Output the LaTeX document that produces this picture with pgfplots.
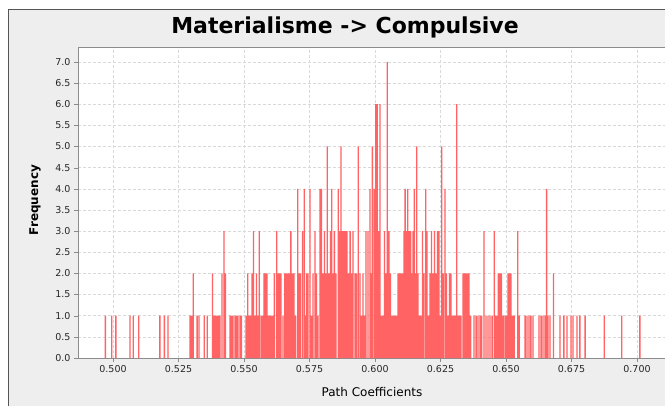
\documentclass[border=0pt]{standalone}
\usepackage{pgfplots}
\pgfplotsset{compat=1.18}
\usepackage{pgfplotstable}
\usepackage{fontspec}
\setmainfont{DejaVu Sans}
\definecolor{panelgray}{HTML}{EEEEEE}
\definecolor{bordergray}{HTML}{555555}
\definecolor{barred}{HTML}{FF6363}
\pgfplotstableread{
x y
0.4971 1
0.4995 1
0.5011 1
0.5065 1
0.5077 1
0.5098 1
0.5179 1
0.5196 1
0.5210 1
0.5294 1
0.5300 1
0.5306 2
0.5321 1
0.5328 1
0.5348 1
0.5360 1
0.5380 2
0.5385 1
0.5391 1
0.5397 1
0.5403 1
0.5408 1
0.5416 2
0.5424 3
0.5429 2
0.5447 1
0.5452 1
0.5458 1
0.5466 1
0.5471 1
0.5477 1
0.5485 1
0.5490 1
0.5508 1
0.5514 2
0.5519 1
0.5525 1
0.5531 2
0.5536 3
0.5542 1
0.5548 2
0.5553 1
0.5558 3
0.5565 1
0.5571 1
0.5576 2
0.5582 2
0.5588 2
0.5594 1
0.5599 1
0.5605 1
0.5611 1
0.5616 2
0.5625 3
0.5630 2
0.5636 2
0.5641 2
0.5649 1
0.5656 2
0.5662 2
0.5668 2
0.5674 2
0.5679 3
0.5685 2
0.5691 2
0.5697 1
0.5705 4
0.5710 2
0.5716 2
0.5723 3
0.5730 4
0.5735 1
0.5739 2
0.5744 2
0.5752 4
0.5758 1
0.5763 2
0.5771 3
0.5777 2
0.5782 1
0.5790 4
0.5796 4
0.5802 2
0.5807 3
0.5812 2
0.5818 5
0.5824 2
0.5830 3
0.5835 4
0.5840 2
0.5845 3
0.5851 2
0.5860 4
0.5865 3
0.5870 5
0.5876 3
0.5882 3
0.5887 3
0.5893 3
0.5899 2
0.5905 3
0.5910 2
0.5916 3
0.5924 2
0.5929 2
0.5936 5
0.5943 2
0.5948 1
0.5954 2
0.5960 1
0.5966 3
0.5973 3
0.5981 4
0.5985 2
0.5990 5
0.5997 4
0.6003 6
0.6008 6
0.6013 3
0.6019 6
0.6025 1
0.6031 1
0.6036 3
0.6042 2
0.6047 7
0.6053 3
0.6059 2
0.6065 1
0.6071 1
0.6076 1
0.6082 1
0.6088 2
0.6094 2
0.6099 2
0.6105 2
0.6111 3
0.6115 4
0.6120 3
0.6125 4
0.6130 3
0.6136 3
0.6141 2
0.6145 3
0.6150 4
0.6155 2
0.6159 5
0.6164 2
0.6170 1
0.6176 1
0.6181 3
0.6187 2
0.6194 4
0.6198 3
0.6204 1
0.6210 2
0.6216 3
0.6221 2
0.6227 3
0.6233 2
0.6239 3
0.6244 3
0.6250 1
0.6255 5
0.6260 2
0.6267 4
0.6273 2
0.6279 1
0.6284 2
0.6290 2
0.6296 1
0.6302 1
0.6307 1
0.6312 6
0.6317 1
0.6323 1
0.6328 1
0.6336 2
0.6342 2
0.6347 2
0.6353 2
0.6359 2
0.6365 1
0.6378 1
0.6386 1
0.6393 1
0.6401 1
0.6407 1
0.6416 3
0.6424 1
0.6431 1
0.6439 1
0.6447 1
0.6455 3
0.6460 1
0.6466 1
0.6471 2
0.6477 2
0.6483 2
0.6489 1
0.6496 1
0.6502 1
0.6508 2
0.6513 2
0.6519 2
0.6525 1
0.6531 1
0.6545 3
0.6550 1
0.6573 1
0.6580 1
0.6588 1
0.6595 1
0.6603 1
0.6626 1
0.6634 1
0.6641 1
0.6649 1
0.6655 4
0.6660 1
0.6668 1
0.6681 2
0.6706 1
0.6721 1
0.6733 1
0.6748 1
0.6756 1
0.6771 1
0.6782 1
0.6802 1
0.6875 1
0.6942 1
0.7011 1
}\histdata
\begin{document}
\begin{tikzpicture}[x=1pt,y=1pt]
\useasboundingbox (0,0) rectangle (665,405);
\clip (0,0) rectangle (665,405);
\fill[white] (0,0) rectangle (665,405);
\filldraw[fill=panelgray, draw=bordergray, line width=1pt] (8,-10) rectangle (690,395.5);
\begin{axis}[
  at={(78pt,47pt)}, anchor=south west,
  width=600pt, height=311pt, scale only axis,
  xmin=0.48664, xmax=0.71565, ymin=0, ymax=7.352,
  xtick={0.5,0.525,0.55,0.575,0.6,0.625,0.65,0.675,0.7},
  ytick={0,0.5,1,1.5,2,2.5,3,3.5,4,4.5,5,5.5,6,6.5,7},
  xticklabel style={/pgf/number format/.cd, fixed, fixed zerofill, precision=3},
  yticklabel style={/pgf/number format/.cd, fixed, fixed zerofill, precision=1},
  /pgf/number format/assume math mode=true,
  scaled x ticks=false,
  ticklabel style={font=\fontsize{9.5}{11}\selectfont, text=black!85},
  grid=major,
  major grid style={densely dashed, black!15, line width=0.5pt},
  axis line style={black!45},
  tick style={black!45},
  tick pos=left,
  tick align=outside,
  major tick length=4pt,
  axis background/.style={fill=white},
  ybar, bar width=0.0005,
]
\addplot[fill=barred, draw=none] table[x=x,y=y] {\histdata};
\end{axis}
\node[font=\fontsize{22}{26}\selectfont\bfseries] at (345,378) {Materialisme -> Compulsive};
\node[font=\fontsize{12}{14}\selectfont] at (372,13) {Path Coefficients};
\node[font=\fontsize{12}{14}\selectfont\bfseries, rotate=90] at (35,205) {Frequency};
\end{tikzpicture}
\end{document}
